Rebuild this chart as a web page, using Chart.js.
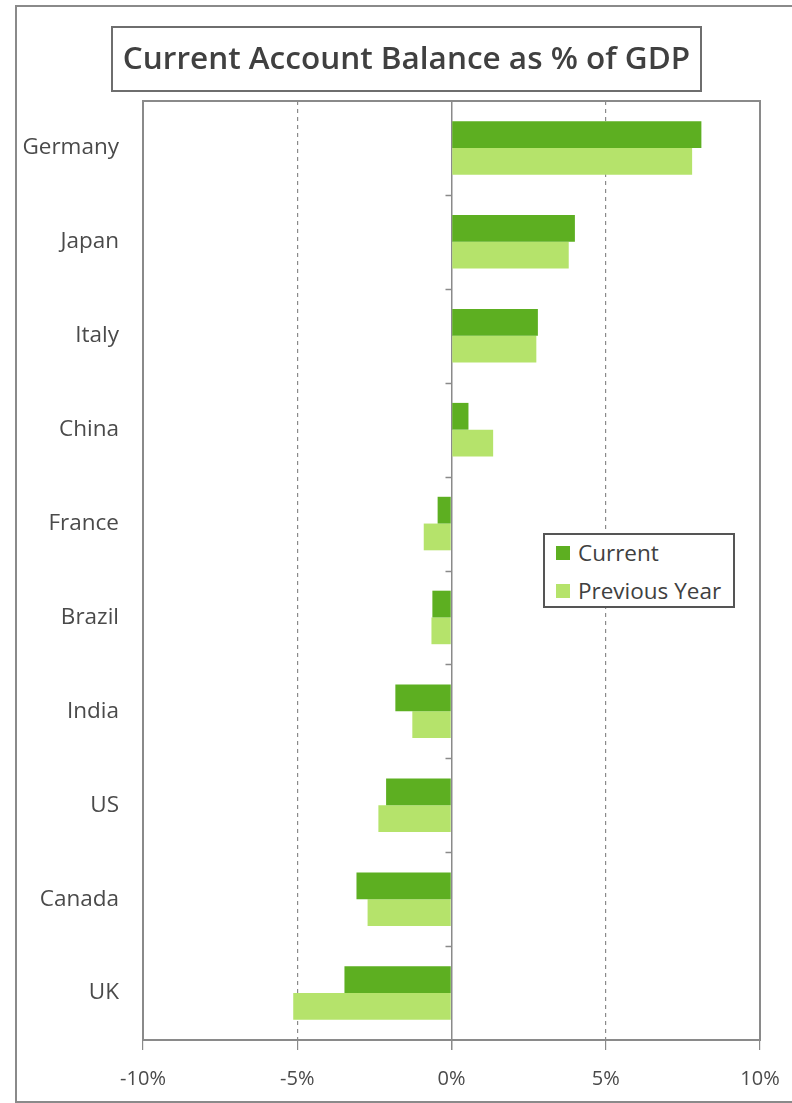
<!DOCTYPE html>
<html>
<head>
<meta charset="utf-8">
<script src="https://cdn.jsdelivr.net/npm/chart.js@4"></script>
<style>
  body { margin: 0; background: #fff; }
  #wrap { position: relative; width: 792px; height: 1103px; overflow: hidden; font-family: "Open Sans", sans-serif; }
  #frame { position: absolute; left: 15px; top: 5px; width: 800px; height: 1094px; border: 2px solid #8a8a8a; }
  #title { position: absolute; left: 111px; top: 26px; width: 587px; height: 62px; border: 2px solid #6e6e6e;
           font-size: 31.5px; font-weight: 600; color: #404040; text-align: center; line-height: 58px; }
  #legend { position: absolute; left: 543px; top: 533px; width: 188px; height: 71px; border: 2px solid #555;
            font-size: 22.5px; color: #404040; background: #fff; }
  .item { position: absolute; left: 11px; display: flex; align-items: center; }
  .swatch { width: 14px; height: 14px; margin-right: 8px; }
  canvas { position: absolute; left: 0; top: 0; }
</style>
</head>
<body>
<div id="wrap">
  <div id="frame"></div>
  <canvas id="chart" width="792" height="1103"></canvas>
  <div id="title">Current Account Balance as % of GDP</div>
  <div id="legend"></div>
</div>
<script>
const countries = ["Germany", "Japan", "Italy", "China", "France", "Brazil", "India", "US", "Canada", "UK"];
const currentVals = [8.1, 4.0, 2.8, 0.55, -0.45, -0.62, -1.82, -2.12, -3.08, -3.47];
const previousVals = [7.8, 3.8, 2.75, 1.35, -0.9, -0.65, -1.27, -2.37, -2.72, -5.13];
const xTicks = [-10, -5, 0, 5, 10];

const currentColor = "#5daf21";
const previousColor = "#b5e36b";
const textColor = "#4a4a4a";

// small tick marks on the zero line between categories + plot frame
const extras = {
  id: "extras",
  afterDatasetsDraw(c) {
    const { ctx, chartArea: a, scales } = c;
    const x0 = scales.x.getPixelForValue(0);
    ctx.save();
    ctx.strokeStyle = "#8a8a8a";
    ctx.lineWidth = 1.5;
    for (let i = 0; i < countries.length - 1; i++) {
      const y = Math.round(scales.y.getPixelForValue(i + 0.5)) + 0.5;
      ctx.beginPath();
      ctx.moveTo(x0 - 6, y);
      ctx.lineTo(x0, y);
      ctx.stroke();
    }
    ctx.lineWidth = 2;
    ctx.strokeRect(a.left, a.top, a.right - a.left, a.bottom - a.top);
    ctx.restore();
  }
};

new Chart(document.getElementById("chart"), {
  type: "bar",
  data: {
    labels: countries,
    datasets: [
      { label: "Current", data: currentVals, backgroundColor: currentColor },
      { label: "Previous Year", data: previousVals, backgroundColor: previousColor }
    ]
  },
  options: {
    indexAxis: "y",
    responsive: false,
    devicePixelRatio: 1,
    animation: false,
    layout: { padding: { top: 101, right: 32, left: 0, bottom: 0 } },
    datasets: { bar: { categoryPercentage: 0.57, barPercentage: 1.0 } },
    plugins: { legend: { display: false }, title: { display: false }, tooltip: { enabled: false } },
    scales: {
      x: {
        min: -10, max: 10,
        afterBuildTicks: s => { s.ticks = xTicks.map(v => ({ value: v })); },
        afterFit: s => { s.height = 63; s.paddingLeft = 0; s.paddingRight = 0; },
        ticks: { color: textColor, font: { family: "Open Sans", size: 20 }, padding: 17,
                 callback: v => v + "%" },
        grid: {
          color: "#8a8a8a",
          lineWidth: c => (c.tick && c.tick.value === 0 ? 1.5 : 1.2),
          tickLength: 10,
          tickColor: "#8a8a8a"
        },
        border: { display: true, color: "#8a8a8a", width: 2,
                  dash: c => (c.tick && Math.abs(c.tick.value) === 5 ? [4, 4] : []) }
      },
      y: {
        afterFit: s => { s.width = 143; s.paddingTop = 0; s.paddingBottom = 0; },
        ticks: { color: textColor, font: { family: "Open Sans", size: 22.5 }, padding: 24 },
        grid: { display: false, drawTicks: false },
        border: { display: true, color: "#8a8a8a", width: 2 }
      }
    }
  },
  plugins: [extras]
});

const legend = document.getElementById("legend");
[["Current", currentColor], ["Previous Year", previousColor]].forEach(([name, col], i) => {
  const d = document.createElement("div");
  d.className = "item";
  d.style.top = (i === 0 ? 2 : 40) + "px";
  d.innerHTML = `<span class="swatch" style="background:${col}"></span><span>${name}</span>`;
  legend.appendChild(d);
});
</script>
</body>
</html>
